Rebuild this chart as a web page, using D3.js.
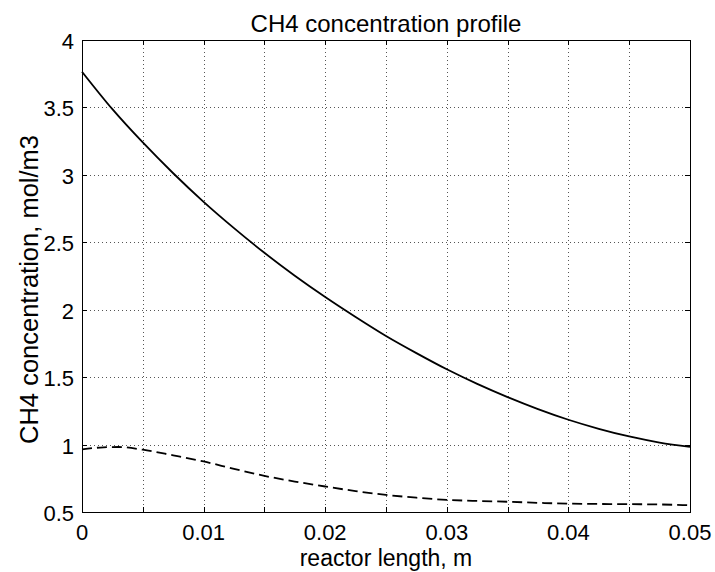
<!DOCTYPE html>
<html>
<head>
<meta charset="utf-8">
<script src="https://cdn.jsdelivr.net/npm/d3@7"></script>
<style>
  body { margin: 0; background: #fff; }
  text { font-family: "Liberation Sans", Arial, sans-serif; fill: #000; }
</style>
</head>
<body>
<svg id="chart" width="715" height="572"></svg>
<script>
// Du lieu doc tu hinh
const xVals = [0, 0.0025, 0.005, 0.0075, 0.01, 0.0125, 0.015, 0.0175, 0.02, 0.0225, 0.025,
               0.0275, 0.03, 0.0325, 0.035, 0.0375, 0.04, 0.0425, 0.045, 0.0475, 0.05];
const solidVals = [3.765, 3.487, 3.240, 3.012, 2.800, 2.605, 2.422, 2.252, 2.094, 1.946, 1.805,
                   1.678, 1.558, 1.450, 1.352, 1.263, 1.184, 1.117, 1.060, 1.015, 0.983];

const dashX = [0, 0.0015, 0.003, 0.005, 0.0075, 0.01, 0.0125, 0.015, 0.0175, 0.02, 0.0225,
               0.025, 0.0275, 0.03, 0.0325, 0.035, 0.0375, 0.04, 0.045, 0.0475, 0.05];
const dashVals = [0.965, 0.978, 0.982, 0.962, 0.920, 0.875, 0.820, 0.768, 0.726, 0.689, 0.655,
                  0.627, 0.606, 0.590, 0.582, 0.576, 0.568, 0.562, 0.558, 0.556, 0.550];

const xTicks = [0, 0.01, 0.02, 0.03, 0.04, 0.05];
const xTickLabels = ["0", "0.01", "0.02", "0.03", "0.04", "0.05"];
const xGrid = d3.range(0, 11).map(i => i * 0.005);
const yTicks = [0.5, 1, 1.5, 2, 2.5, 3, 3.5, 4];
const yTickLabels = ["0.5", "1", "1.5", "2", "2.5", "3", "3.5", "4"];

const svg = d3.select("#chart"),
      margin = {top: 40, right: 25, bottom: 60, left: 82},
      width = +svg.attr("width") - margin.left - margin.right,
      height = +svg.attr("height") - margin.top - margin.bottom;

const g = svg.append("g").attr("transform", `translate(${margin.left},${margin.top})`);

const x = d3.scaleLinear().domain([0, 0.05]).range([0, width]);
const y = d3.scaleLinear().domain([0.5, 4]).range([height, 0]);

// Luoi cham
g.append("g").selectAll("line")
  .data(xGrid.slice(1, -1))
  .enter().append("line")
    .attr("x1", d => Math.round(x(d)) + 0.5).attr("x2", d => Math.round(x(d)) + 0.5)
    .attr("y1", 0).attr("y2", height)
    .attr("stroke", "#555").attr("stroke-width", 1).attr("stroke-dasharray", "1,3");

g.append("g").selectAll("line")
  .data(yTicks.slice(1, -1))
  .enter().append("line")
    .attr("y1", d => Math.round(y(d)) + 0.5).attr("y2", d => Math.round(y(d)) + 0.5)
    .attr("x1", 0).attr("x2", width)
    .attr("stroke", "#555").attr("stroke-width", 1).attr("stroke-dasharray", "1,3");

// Vach chia huong vao trong (4 canh)
const tickLen = 5;
const ticks = g.append("g").attr("stroke", "#000").attr("stroke-width", 1);
xGrid.forEach(d => {
  const px = Math.round(x(d)) + 0.5;
  ticks.append("line").attr("x1", px).attr("x2", px).attr("y1", height).attr("y2", height - tickLen);
  ticks.append("line").attr("x1", px).attr("x2", px).attr("y1", 0).attr("y2", tickLen);
});
yTicks.forEach(d => {
  const py = Math.round(y(d)) + 0.5;
  ticks.append("line").attr("y1", py).attr("y2", py).attr("x1", 0).attr("x2", tickLen);
  ticks.append("line").attr("y1", py).attr("y2", py).attr("x1", width).attr("x2", width - tickLen);
});

// Duong cong
const line = d3.line().curve(d3.curveMonotoneX).x(d => x(d[0])).y(d => y(d[1]));

g.append("path")
  .datum(xVals.map((v, i) => [v, solidVals[i]]))
  .attr("fill", "none").attr("stroke", "#000").attr("stroke-width", 1.8)
  .attr("d", line);

g.append("path")
  .datum(dashX.map((v, i) => [v, dashVals[i]]))
  .attr("fill", "none").attr("stroke", "#000").attr("stroke-width", 1.8)
  .attr("stroke-dasharray", "10,5")
  .attr("d", line);

// Khung truc
g.append("rect")
  .attr("x", 0.5).attr("y", 0.5).attr("width", width).attr("height", height)
  .attr("fill", "none").attr("stroke", "#000").attr("stroke-width", 1);

// Nhan truc X
g.append("g").selectAll("text")
  .data(xTicks)
  .enter().append("text")
    .attr("x", d => x(d))
    .attr("y", height + 28)
    .attr("text-anchor", "middle")
    .style("font-size", "22px")
    .text((d, i) => xTickLabels[i]);

// Nhan truc Y
g.append("g").selectAll("text")
  .data(yTicks)
  .enter().append("text")
    .attr("x", -8)
    .attr("y", d => y(d) + 9)
    .attr("text-anchor", "end")
    .style("font-size", "22px")
    .text((d, i) => yTickLabels[i]);

// Tieu de va ten truc
svg.append("text")
  .attr("x", margin.left + width / 2)
  .attr("y", 32)
  .attr("text-anchor", "middle")
  .style("font-size", "24px")
  .text("CH4 concentration profile");

svg.append("text")
  .attr("x", margin.left + width / 2)
  .attr("y", 566)
  .attr("text-anchor", "middle")
  .style("font-size", "23px")
  .text("reactor length, m");

svg.append("text")
  .attr("transform", `translate(38,${margin.top + y(2.15)}) rotate(-90)`)
  .attr("text-anchor", "middle")
  .style("font-size", "25.5px")
  .text("CH4 concentration, mol/m3");
</script>
</body>
</html>
